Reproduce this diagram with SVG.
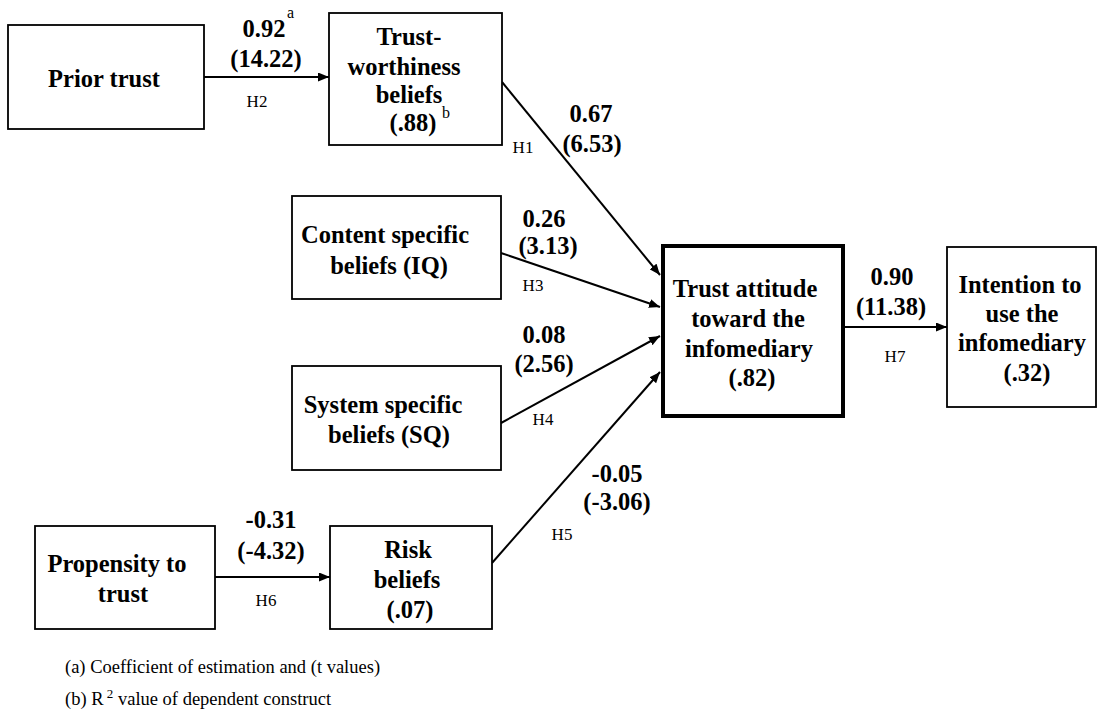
<svg xmlns="http://www.w3.org/2000/svg" width="1098" height="713" viewBox="0 0 1098 713">
<style>
  .box{fill:#fff;stroke:#000;stroke-width:1.8}
  .thick{fill:#fff;stroke:#000;stroke-width:4}
  .lbl{font-family:"Liberation Serif","Times New Roman",serif;font-weight:bold;font-size:24.5px;fill:#000;text-anchor:middle}
  .coef{font-family:"Liberation Serif","Times New Roman",serif;font-weight:bold;font-size:24.5px;fill:#000;text-anchor:middle}
  .h{font-family:"Liberation Serif","Times New Roman",serif;font-size:17px;fill:#000;text-anchor:middle}
  .sup{font-family:"Liberation Serif","Times New Roman",serif;font-size:16px;fill:#000}
  .note{font-family:"Liberation Serif","Times New Roman",serif;font-size:18.5px;fill:#000}
  .edge{stroke:#000;stroke-width:2;fill:none}
</style>
<defs>
  <marker id="arr" markerUnits="userSpaceOnUse" markerWidth="11" markerHeight="9" refX="11" refY="4.5" orient="auto">
    <path d="M0,0 L11,4.5 L0,9 z" fill="#000"/>
  </marker>
</defs>
<rect width="1098" height="713" fill="#fff"/>

<g id="connectors">
  <line class="edge" x1="204" y1="77" x2="329" y2="77" stroke-width="3" marker-end="url(#arr)"/>
  <line class="edge" x1="502" y1="82" x2="660" y2="275" marker-end="url(#arr)"/>
  <line class="edge" x1="501" y1="253" x2="660" y2="307" marker-end="url(#arr)"/>
  <line class="edge" x1="501" y1="423" x2="660" y2="336" marker-end="url(#arr)"/>
  <line class="edge" x1="492" y1="563" x2="660" y2="372" marker-end="url(#arr)"/>
  <line class="edge" x1="845" y1="327" x2="947" y2="327" marker-end="url(#arr)"/>
  <line class="edge" x1="215" y1="577" x2="330" y2="577" stroke-width="2.5" marker-end="url(#arr)"/>

  <text class="coef" x="264" y="37">0.92</text>
  <text class="sup" x="287" y="18">a</text>
  <text class="coef" x="266" y="67">(14.22)</text>
  <text class="h" x="257" y="107">H2</text>

  <text class="coef" x="591" y="122">0.67</text>
  <text class="coef" x="592" y="152">(6.53)</text>
  <text class="h" x="523" y="153">H1</text>

  <text class="coef" x="544" y="227">0.26</text>
  <text class="coef" x="548" y="254">(3.13)</text>
  <text class="h" x="533" y="291">H3</text>

  <text class="coef" x="544" y="343">0.08</text>
  <text class="coef" x="544" y="372">(2.56)</text>
  <text class="h" x="543" y="425">H4</text>

  <text class="coef" x="617" y="482">-0.05</text>
  <text class="coef" x="617" y="510">(-3.06)</text>
  <text class="h" x="562" y="540">H5</text>

  <text class="coef" x="271" y="528">-0.31</text>
  <text class="coef" x="271" y="559">(-4.32)</text>
  <text class="h" x="266" y="606">H6</text>

  <text class="coef" x="892" y="285">0.90</text>
  <text class="coef" x="891" y="315">(11.38)</text>
  <text class="h" x="895" y="362">H7</text>
</g>

<g id="prior-trust">
  <rect class="box" x="8" y="25" width="196" height="104"/>
  <text class="lbl" x="104" y="87">Prior trust</text>
</g>

<g id="trustworthiness">
  <rect class="box" x="329" y="13" width="173" height="132"/>
  <text class="lbl" x="409" y="45">Trust-</text>
  <text class="lbl" x="404" y="75">worthiness</text>
  <text class="lbl" x="409" y="103">beliefs</text>
  <text class="lbl" x="413" y="131">(.88)</text>
  <text class="sup" x="442" y="118">b</text>
</g>

<g id="content-beliefs">
  <rect class="box" x="292" y="196" width="209" height="103"/>
  <text class="lbl" x="385" y="243">Content specific</text>
  <text class="lbl" x="389" y="274">beliefs (IQ)</text>
</g>

<g id="system-beliefs">
  <rect class="box" x="292" y="366" width="209" height="104"/>
  <text class="lbl" x="383" y="413">System specific</text>
  <text class="lbl" x="389" y="443">beliefs (SQ)</text>
</g>

<g id="trust-attitude">
  <rect class="thick" x="663" y="246" width="180" height="170"/>
  <text class="lbl" x="745" y="297">Trust attitude</text>
  <text class="lbl" x="748" y="327">toward the</text>
  <text class="lbl" x="749" y="357">infomediary</text>
  <text class="lbl" x="752" y="386">(.82)</text>
</g>

<g id="intention">
  <rect class="box" x="947" y="247" width="149" height="160"/>
  <text class="lbl" x="1020" y="293">Intention to</text>
  <text class="lbl" x="1022" y="322">use the</text>
  <text class="lbl" x="1022" y="351">infomediary</text>
  <text class="lbl" x="1027" y="381">(.32)</text>
</g>

<g id="propensity">
  <rect class="box" x="35" y="526" width="180" height="103"/>
  <text class="lbl" x="117" y="572">Propensity to</text>
  <text class="lbl" x="123" y="602">trust</text>
</g>

<g id="risk-beliefs">
  <rect class="box" x="330" y="526" width="162" height="103"/>
  <text class="lbl" x="408" y="558">Risk</text>
  <text class="lbl" x="407" y="588">beliefs</text>
  <text class="lbl" x="410" y="618">(.07)</text>
</g>

<g id="notes">
  <text class="note" x="65" y="673">(a) Coefficient of estimation and (t values)</text>
  <text class="note" x="65" y="705">(b) R<tspan font-size="13" dy="-7"> 2</tspan><tspan dy="7"> value of dependent construct</tspan></text>
</g>
</svg>
